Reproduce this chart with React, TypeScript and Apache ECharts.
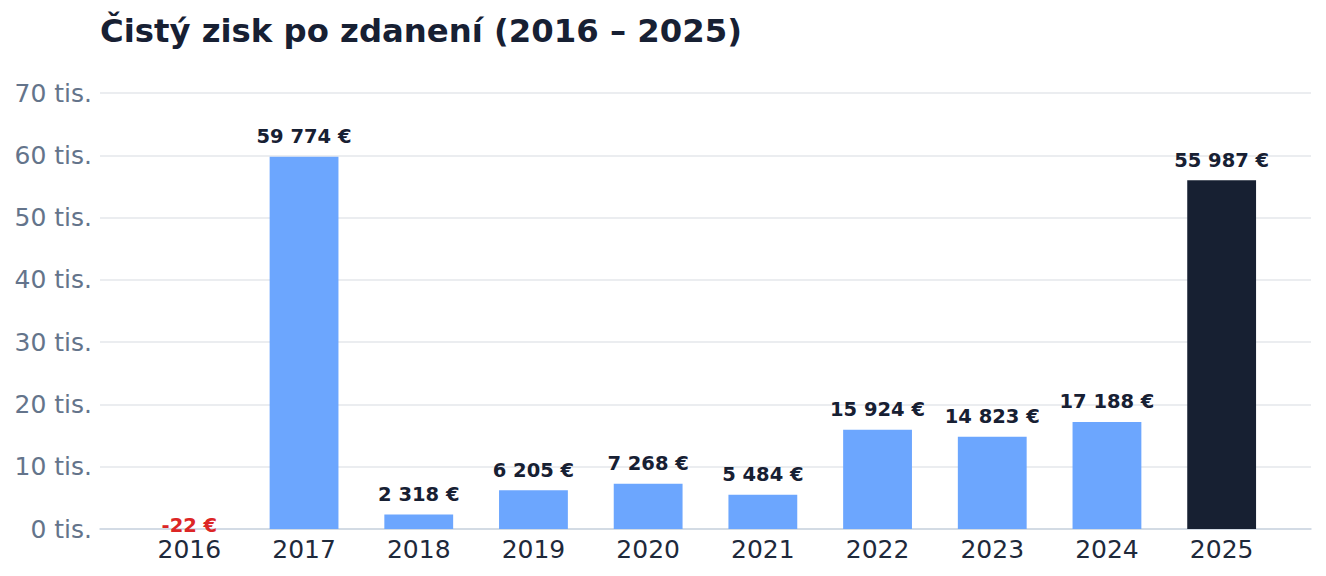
import React, { useEffect, useRef } from "react";
import * as echarts from "echarts";

const years = ["2016", "2017", "2018", "2019", "2020", "2021", "2022", "2023", "2024", "2025"];
const profits = [-22, 59774, 2318, 6205, 7268, 5484, 15924, 14823, 17188, 55987];
const yTicks = [0, 10000, 20000, 30000, 40000, 50000, 60000, 70000];
const titleText = "Čistý zisk po zdanení (2016 – 2025)";

const FONT = "DejaVu Sans";
const fmtEuro = (v: number) => {
  const s = Math.abs(v).toString().replace(/\B(?=(\d{3})+(?!\d))/g, " ");
  return (v < 0 ? "-" : "") + s + " €";
};

export default function App() {
  const ref = useRef<HTMLDivElement>(null);
  useEffect(() => {
    document.body.style.margin = "0";
    const chart = echarts.init(ref.current!, null, { renderer: "svg" });
    const lastIdx = years.length - 1;
    const yMin = yTicks[0];
    const yMax = yTicks[yTicks.length - 1];
    chart.setOption({
      animation: false,
      backgroundColor: "#ffffff",
      title: {
        text: titleText,
        left: 95,
        top: 10,
        textStyle: { fontFamily: FONT, fontSize: 32.3, fontWeight: "bold", color: "#172033" },
      },
      grid: [
        { left: 100, right: 15, top: 93, bottom: 47 },
        { left: 132, right: 47, top: 93, bottom: 47 },
      ],
      xAxis: [
        {
          gridIndex: 0,
          type: "category",
          data: [""],
          axisTick: { show: false },
          axisLabel: { show: false },
          axisLine: { lineStyle: { color: "#cbd5e1", width: 1.5 } },
        },
        {
          gridIndex: 1,
          type: "category",
          data: years,
          axisTick: { show: false },
          axisLine: { show: false },
          axisLabel: { fontFamily: FONT, fontSize: 25, color: "#1e293b", margin: 8 },
        },
      ],
      yAxis: [
        {
          gridIndex: 0,
          type: "value",
          min: yMin,
          max: yMax,
          interval: 10000,
          axisLabel: {
            fontFamily: FONT,
            fontSize: 25,
            color: "#64748b",
            margin: 8,
            formatter: (v: number) => v / 1000 + " tis.",
          },
          splitLine: { lineStyle: { color: "#e5e7eb", width: 1.5 } },
        },
        {
          gridIndex: 1,
          type: "value",
          min: yMin,
          max: yMax,
          interval: 10000,
          show: false,
          splitLine: { show: false },
        },
      ],
      series: [
        {
          type: "bar",
          xAxisIndex: 1,
          yAxisIndex: 1,
          barWidth: "60%",
          data: profits.map((v, i) => ({
            value: v,
            itemStyle: { color: i === lastIdx ? "#172032" : "#6ca6fe" },
            label:
              v < 0
                ? { position: "inside", color: "#dc2626", offset: [0, -4] }
                : undefined,
          })),
          label: {
            show: true,
            position: "top",
            distance: 10,
            fontFamily: FONT,
            fontSize: 19.5,
            fontWeight: "bold",
            color: "#172033",
            formatter: (p: any) => fmtEuro(p.value),
          },
        },
      ],
    });
    return () => chart.dispose();
  }, []);
  return <div ref={ref} style={{ width: 1326, height: 576 }} />;
}
